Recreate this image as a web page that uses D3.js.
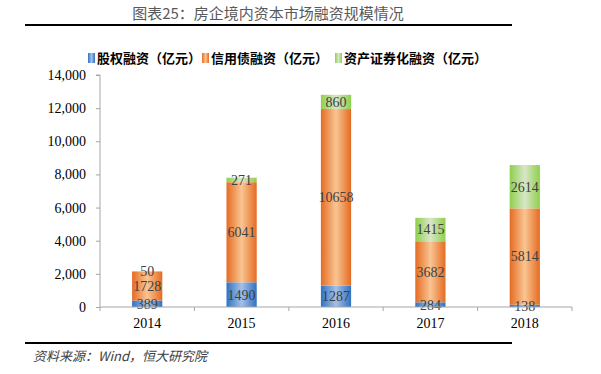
<!DOCTYPE html>
<html>
<head>
<meta charset="utf-8">
<script src="https://cdn.jsdelivr.net/npm/d3@7"></script>
<style>
body { margin: 0; background: #fff; }
</style>
</head>
<body>
<script>
// data
var years = ["2014", "2015", "2016", "2017", "2018"];
var equity = [389, 1490, 1287, 284, 138];
var bonds = [1728, 6041, 10658, 3682, 5814];
var abs = [50, 271, 860, 1415, 2614];
var seriesNames = ["股权融资（亿元）", "信用债融资（亿元）", "资产证券化融资（亿元）"];
var yTicks = [0, 2000, 4000, 6000, 8000, 10000, 12000, 14000];

var w = 601, h = 374;
var plotLeft = 100, plotRight = 572, plotTop = 75, plotBottom = 307;

var svg = d3.select("body").append("svg")
    .attr("width", w)
    .attr("height", h);

// gradients
var colors = [
  { id: "gBlue", edge: "#2f72c4", mid: "#a4c0e6" },
  { id: "gOrange", edge: "#e56b22", mid: "#f9c592" },
  { id: "gGreen", edge: "#8fcf4c", mid: "#d8e6c8" }
];
var defs = svg.append("defs");
colors.forEach(function(c) {
  var g = defs.append("linearGradient").attr("id", c.id)
      .attr("x1", "0%").attr("x2", "100%").attr("y1", "0%").attr("y2", "0%");
  g.append("stop").attr("offset", "0%").attr("stop-color", c.edge);
  g.append("stop").attr("offset", "50%").attr("stop-color", c.mid);
  g.append("stop").attr("offset", "100%").attr("stop-color", c.edge);
});

// title + rules
svg.append("text")
    .attr("x", 268).attr("y", 19)
    .attr("text-anchor", "middle")
    .attr("font-family", "Noto Sans CJK SC")
    .attr("font-size", 15)
    .attr("fill", "#595959")
    .text("图表25：房企境内资本市场融资规模情况");

svg.append("line").attr("x1", 25).attr("x2", 512).attr("y1", 25).attr("y2", 25)
    .attr("stroke", "#000").attr("stroke-width", 2);
svg.append("line").attr("x1", 25).attr("x2", 512).attr("y1", 343).attr("y2", 343)
    .attr("stroke", "#000").attr("stroke-width", 2);

svg.append("text")
    .attr("x", 33).attr("y", 361)
    .attr("font-family", "Noto Sans CJK SC")
    .attr("font-size", 13)
    .attr("font-style", "italic")
    .attr("fill", "#404040")
    .text("资料来源：Wind，恒大研究院");

// scales
var x = d3.scaleBand().domain(years).range([plotLeft, plotRight]).paddingInner(0.68).paddingOuter(0.34);
var y = d3.scaleLinear().domain([0, 14000]).range([plotBottom, plotTop]);

// stack
var table = years.map(function(yr, i) {
  return { year: yr, s0: equity[i], s1: bonds[i], s2: abs[i] };
});
var stacked = d3.stack().keys(["s0", "s1", "s2"])(table);

var layers = svg.append("g").selectAll("g")
    .data(stacked).enter().append("g")
    .attr("fill", function(d, i) { return "url(#" + colors[i].id + ")"; });

layers.selectAll("rect")
    .data(function(d) { return d; })
    .enter().append("rect")
    .attr("x", function(d) { return x(d.data.year); })
    .attr("width", x.bandwidth())
    .attr("y", function(d) { return y(d[1]); })
    .attr("height", function(d) { return y(d[0]) - y(d[1]); });

var labels = svg.append("g").selectAll("g")
    .data(stacked).enter().append("g");
labels.selectAll("text")
    .data(function(d) { return d.map(function(p) { return { p: p, key: d.key }; }); })
    .enter().append("text")
    .attr("x", function(d) { return x(d.p.data.year) + x.bandwidth() / 2; })
    .attr("y", function(d) { return (y(d.p[0]) + y(d.p[1])) / 2; })
    .attr("dy", "0.35em")
    .attr("text-anchor", "middle")
    .attr("font-family", "Liberation Serif")
    .attr("font-size", 14)
    .attr("fill", "#404040")
    .text(function(d) { return d.p.data[d.key]; });

// y axis
var yAxis = d3.axisLeft(y).tickValues(yTicks).tickSize(4).tickFormat(d3.format(","));
var gy = svg.append("g").attr("transform", "translate(" + plotLeft + ",0)").call(yAxis)
    .attr("font-family", "Liberation Serif").attr("font-size", 14);
gy.select(".domain").attr("stroke", "#a6a6a6").attr("d", "M-4," + plotTop + "H0V" + plotBottom);
gy.selectAll(".tick line").attr("stroke", "#a6a6a6");
gy.selectAll(".tick text")
    .attr("x", -14)
    .attr("fill", "#000");

// x axis
var xAxis = d3.axisBottom(x).tickSize(0);
var gx = svg.append("g").attr("transform", "translate(0," + plotBottom + ")").call(xAxis)
    .attr("font-family", "Liberation Serif").attr("font-size", 14);
gx.select(".domain").attr("stroke", "#a6a6a6").attr("d", "M" + plotLeft + ",0H" + plotRight);
gx.selectAll(".tick text")
    .attr("y", 11)
    .attr("fill", "#000");
var step = x.step();
gx.selectAll(".sep").data(d3.range(years.length + 1)).enter().append("line")
    .attr("x1", function(i) { return plotLeft + i * step; })
    .attr("x2", function(i) { return plotLeft + i * step; })
    .attr("y1", 0).attr("y2", 4)
    .attr("stroke", "#a6a6a6");

// legend
var legendX = [88, 202, 335];
var leg = svg.append("g").selectAll("g").data(seriesNames).enter().append("g")
    .attr("transform", function(d, i) { return "translate(" + legendX[i] + ",53)"; });
leg.append("rect").attr("width", 7).attr("height", 10)
    .attr("fill", function(d, i) { return "url(#" + colors[i].id + ")"; });
leg.append("text")
    .attr("x", 9).attr("y", 10)
    .attr("font-family", "Noto Sans CJK SC")
    .attr("font-weight", "bold")
    .attr("font-size", 13)
    .attr("fill", "#000")
    .text(function(d) { return d; });
</script>
</body>
</html>
